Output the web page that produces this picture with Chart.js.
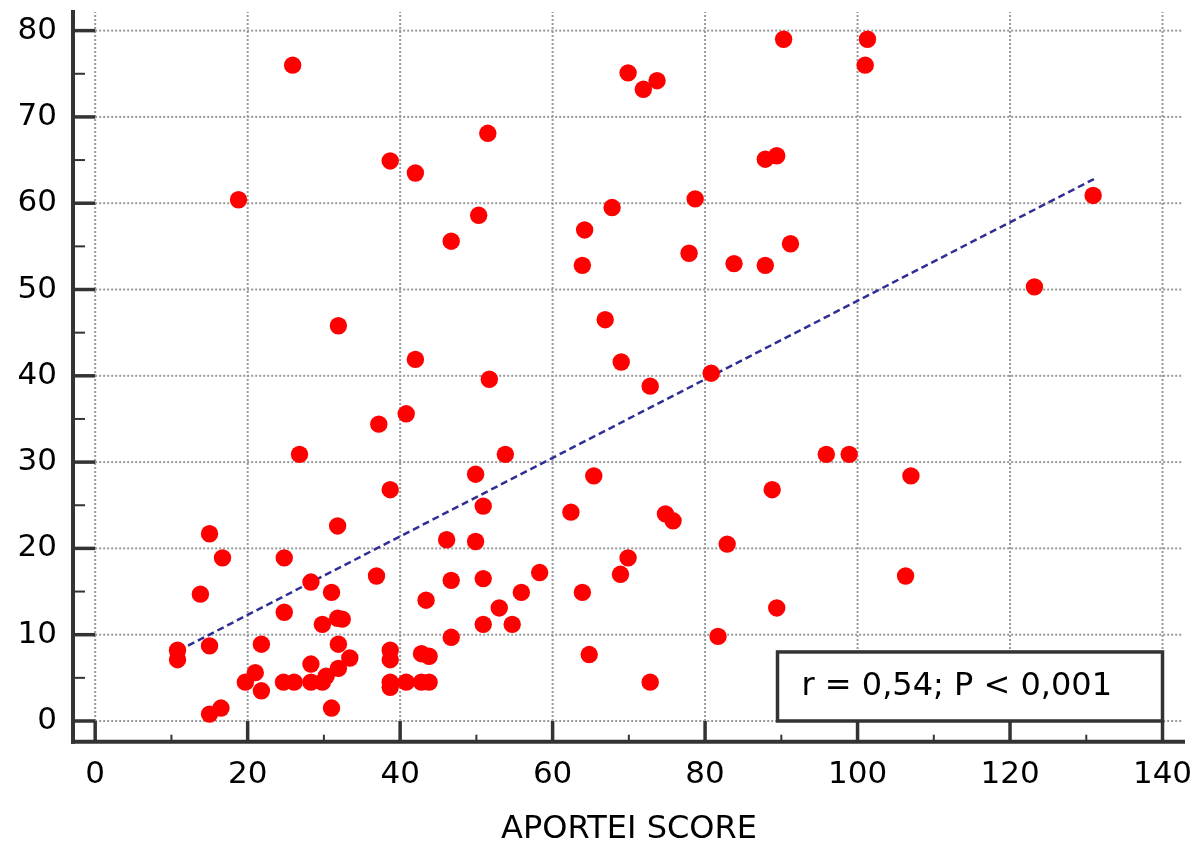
<!DOCTYPE html>
<html>
<head>
<meta charset="utf-8">
<script src="https://cdn.jsdelivr.net/npm/chart.js@4.4.1/dist/chart.umd.min.js"></script>
<style>
  html, body { margin: 0; padding: 0; background: #fff; }
  #wrap { width: 1197px; height: 846px; }
</style>
</head>
<body>
<div id="wrap"><canvas id="scatterChart"></canvas></div>
<script>
// Valores: APORTEI score (x) y variable del eje y
const aporteiScore = [
  25.9, 38.7, 42.0, 18.8, 46.7, 31.9, 42.0, 90.3, 69.9, 73.7,
  71.9, 51.5, 89.4, 87.9, 78.7, 67.8, 50.3, 64.2, 91.2, 77.9,
  63.9, 83.8, 87.9, 66.9, 69.0, 51.7, 80.8, 101.3, 101.0, 130.9,
  123.2, 40.8, 37.2, 26.8, 38.7, 31.8, 46.1, 15.0, 16.7, 24.8,
  36.9, 46.7, 28.3, 31.0, 13.8, 43.4, 24.8, 29.8, 31.8, 32.4,
  46.7, 10.8, 10.8, 15.0, 21.8, 31.9, 38.7, 38.7, 42.8, 43.8,
  33.4, 28.3, 31.9, 21.0, 30.3, 19.7, 24.7, 26.1, 28.3, 29.8,
  38.7, 38.7, 40.8, 42.8, 43.8, 21.8, 31.0, 16.5, 15.0, 72.8,
  53.8, 49.9, 65.4, 50.9, 62.4, 74.8, 75.8, 49.9, 82.9, 69.9,
  68.9, 58.3, 50.9, 55.9, 63.9, 53.0, 89.4, 50.9, 54.7, 81.7,
  64.8, 72.8, 95.9, 88.8, 98.9, 107.0, 106.3
];
const outcome = [
  76.0, 64.9, 63.5, 60.4, 55.6, 45.8, 41.9, 79.0, 75.1, 74.2,
  73.2, 68.1, 65.5, 65.1, 60.5, 59.5, 58.6, 56.9, 55.3, 54.2,
  52.8, 53.0, 52.8, 46.5, 41.6, 39.6, 40.3, 79.0, 76.0, 60.9,
  50.3, 35.6, 34.4, 30.9, 26.8, 22.6, 21.0, 21.7, 18.9, 18.9,
  16.8, 16.3, 16.1, 14.9, 14.7, 14.0, 12.6, 11.2, 11.9, 11.8,
  9.7, 8.2, 7.1, 8.7, 8.9, 8.9, 8.2, 7.1, 7.8, 7.5,
  7.3, 6.6, 6.1, 5.6, 5.2, 4.5, 4.5, 4.5, 4.5, 4.5,
  4.5, 3.9, 4.5, 4.5, 4.5, 3.5, 1.5, 1.5, 0.8, 38.8,
  30.9, 28.6, 28.4, 24.9, 24.2, 24.0, 23.2, 20.8, 20.5, 18.9,
  17.0, 17.2, 16.5, 14.9, 14.9, 13.1, 13.1, 11.2, 11.2, 9.8,
  7.7, 4.5, 30.9, 26.8, 30.9, 28.4, 16.8
];

// Recta de regresión (extremos)
const fitX = [10.9, 131.0];
const fitY = [8.15, 62.8];

// Marcas de los ejes
const xTicks = [0, 20, 40, 60, 80, 100, 120, 140];
const xMinorTicks = [10, 30, 50, 70, 90, 110, 130];
const yTicks = [0, 10, 20, 30, 40, 50, 60, 70, 80];
const yMinorTicks = [5, 15, 25, 35, 45, 55, 65, 75];

// Rango de los ejes (los ejes quedan un poco por debajo del cero)
const xRange = [-2.91, 142.95];
const yRange = [-2.4, 82.39];

// Recuadro con la estadística
const statLabel = 'r = 0,54; P < 0,001';
const statBox = { xMin: 89.5, xMax: 140, yMin: 0, yMax: 8 };

const points = aporteiScore.map((v, i) => ({ x: v, y: outcome[i] }));
const fitLine = fitX.map((v, i) => ({ x: v, y: fitY[i] }));

const fontFamily = '"DejaVu Sans", sans-serif';

function line(ctx, x1, y1, x2, y2) {
  ctx.beginPath();
  ctx.moveTo(x1, y1);
  ctx.lineTo(x2, y2);
  ctx.stroke();
}

// Rejilla punteada, ejes y marcas al estilo del original
const framePlugin = {
  id: 'frame',
  beforeDatasetsDraw(chart) {
    const { ctx, chartArea, scales: { x, y } } = chart;
    const x0 = x.getPixelForValue(0);
    const y0 = y.getPixelForValue(0);
    ctx.save();
    ctx.strokeStyle = '#999';
    ctx.lineWidth = 2;
    ctx.setLineDash([2, 2]);
    yTicks.forEach(v => {
      const py = y.getPixelForValue(v);
      line(ctx, x0, py, chartArea.right - 3, py);
    });
    xTicks.forEach(v => {
      const px = x.getPixelForValue(v);
      line(ctx, px, y0, px, chartArea.top + 2);
    });
    ctx.setLineDash([]);

    // ejes
    ctx.strokeStyle = '#333';
    ctx.lineWidth = 4;
    line(ctx, chartArea.left, chartArea.top, chartArea.left, chartArea.bottom + 2);
    line(ctx, chartArea.left - 2, chartArea.bottom, chartArea.right, chartArea.bottom);

    // marcas principales
    ctx.lineWidth = 3.5;
    yTicks.forEach(v => {
      const py = y.getPixelForValue(v);
      line(ctx, chartArea.left, py, x0, py);
    });
    xTicks.forEach(v => {
      const px = x.getPixelForValue(v);
      line(ctx, px, chartArea.bottom, px, y0);
    });

    // marcas secundarias
    ctx.lineWidth = 2;
    yMinorTicks.forEach(v => {
      const py = y.getPixelForValue(v);
      line(ctx, chartArea.left, py, chartArea.left + 12, py);
    });
    xMinorTicks.forEach(v => {
      const px = x.getPixelForValue(v);
      line(ctx, px, chartArea.bottom, px, chartArea.bottom - 7);
    });
    ctx.restore();
  },
  afterDatasetsDraw(chart) {
    const { ctx, scales: { x, y } } = chart;
    const l = x.getPixelForValue(statBox.xMin);
    const r = x.getPixelForValue(statBox.xMax);
    const t = y.getPixelForValue(statBox.yMax);
    const b = y.getPixelForValue(statBox.yMin);
    ctx.save();
    ctx.fillStyle = '#fff';
    ctx.fillRect(l, t, r - l, b - t);
    ctx.strokeStyle = '#333';
    ctx.lineWidth = 3.5;
    ctx.strokeRect(l, t, r - l, b - t);
    ctx.fillStyle = '#000';
    ctx.font = '32px ' + fontFamily;
    ctx.textBaseline = 'alphabetic';
    ctx.fillText(statLabel, l + 24, b - 26);
    ctx.restore();
  }
};

const chartCtx = document.getElementById('scatterChart').getContext('2d');

new Chart(chartCtx, {
  type: 'scatter',
  data: {
    datasets: [
      {
        data: points,
        backgroundColor: '#ff0000',
        borderWidth: 0,
        pointRadius: 8.7,
        pointHoverRadius: 8.7,
        order: 0
      },
      {
        type: 'line',
        data: fitLine,
        borderColor: '#2e2e96',
        borderWidth: 2.5,
        borderDash: [7, 4],
        pointRadius: 0,
        fill: false,
        order: 1
      }
    ]
  },
  options: {
    responsive: true,
    maintainAspectRatio: false,
    animation: false,
    layout: { padding: { top: 10, right: 12, left: 0, bottom: 0 } },
    plugins: {
      legend: { display: false },
      tooltip: { enabled: false }
    },
    scales: {
      x: {
        type: 'linear',
        min: xRange[0],
        max: xRange[1],
        grid: { display: false },
        border: { display: false },
        afterBuildTicks: s => { s.ticks = xTicks.map(v => ({ value: v })); },
        afterFit: s => { s.height = 104.3; s.paddingLeft = 0; s.paddingRight = 0; },
        ticks: {
          color: '#000',
          font: { family: fontFamily, size: 31 },
          padding: 7,
          maxRotation: 0,
          autoSkip: false
        },
        title: {
          display: true,
          text: 'APORTEI SCORE',
          color: '#000',
          font: { family: fontFamily, size: 32, lineHeight: 1 },
          padding: 0
        }
      },
      y: {
        type: 'linear',
        min: yRange[0],
        max: yRange[1],
        grid: { display: false },
        border: { display: false },
        afterBuildTicks: s => { s.ticks = yTicks.map(v => ({ value: v })); },
        afterFit: s => { s.width = 73; s.paddingTop = 0; s.paddingBottom = 0; },
        ticks: {
          color: '#000',
          font: { family: fontFamily, size: 31 },
          padding: 8,
          autoSkip: false
        }
      }
    }
  },
  plugins: [framePlugin]
});
</script>
</body>
</html>
